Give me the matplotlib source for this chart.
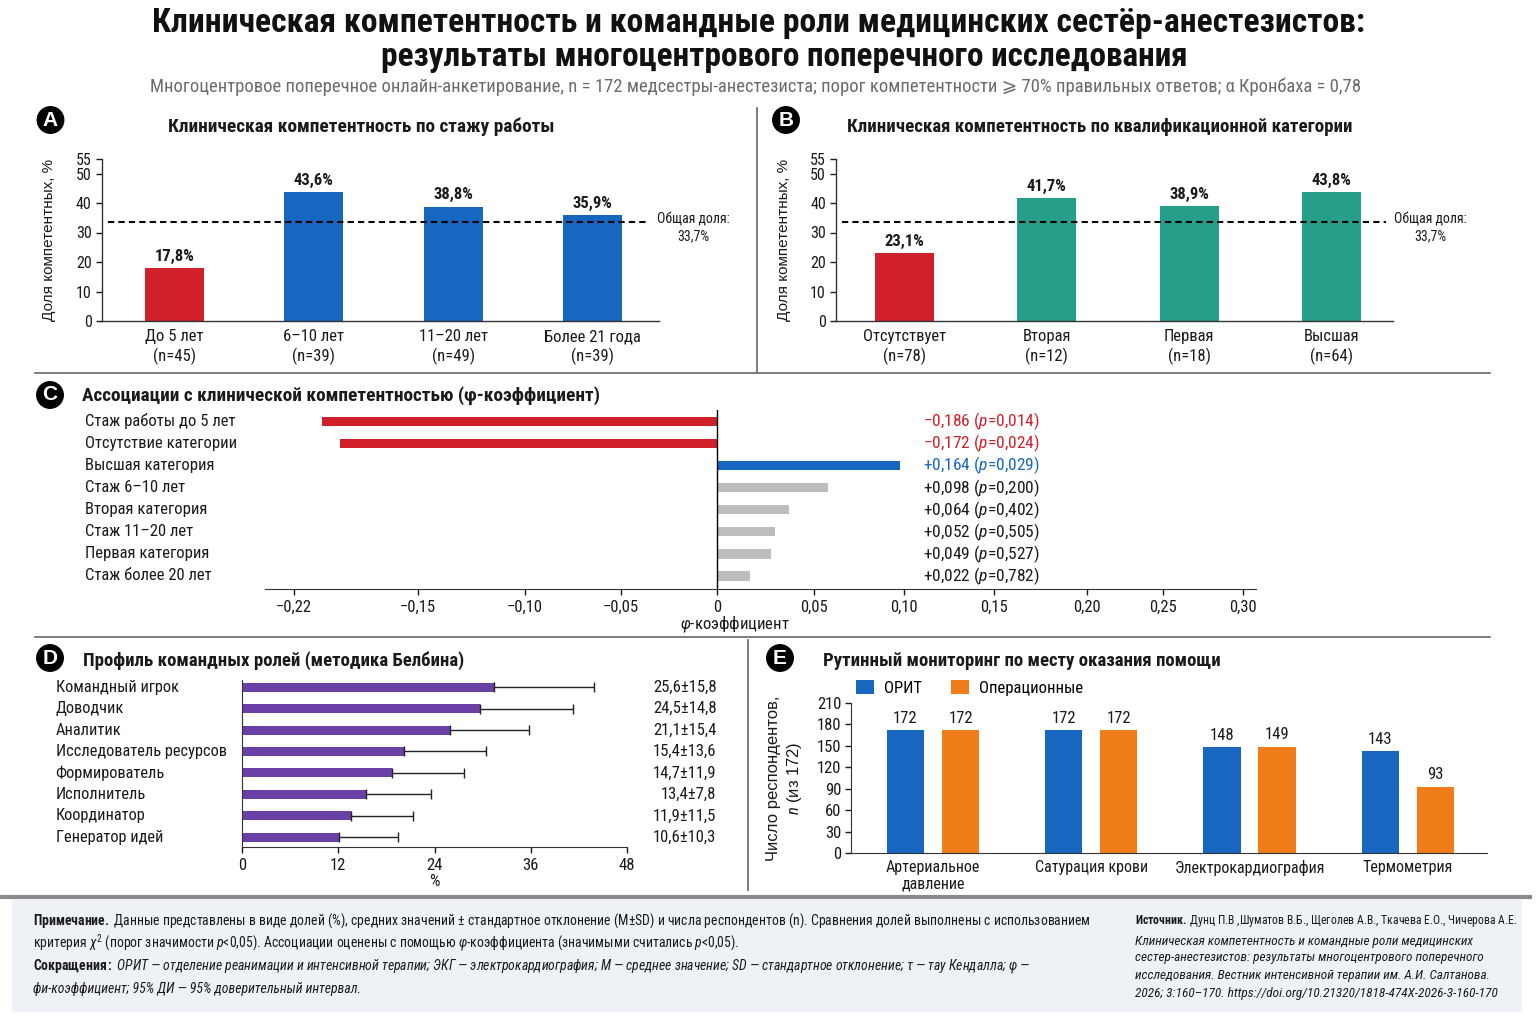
import numpy as np
import matplotlib
matplotlib.use("Agg")
import matplotlib.pyplot as plt
from matplotlib import font_manager as fm
from matplotlib import transforms as mtrans
from matplotlib.lines import Line2D
from matplotlib.patches import Rectangle

W, H = 1536, 1024

# ---------------- data ----------------
title_line1 = "Клиническая компетентность и командные роли медицинских сестёр-анестезистов:"
title_line2 = "результаты многоцентрового поперечного исследования"
subtitle = ("Многоцентровое поперечное онлайн-анкетирование, n = 172 медсестры-анестезиста; "
            "порог компетентности ⩾ 70% правильных ответов; α Кронбаха = 0,78")

exp_groups = ["До 5 лет", "6–10 лет", "11–20 лет", "Более 21 года"]
exp_n = [45, 39, 49, 39]
exp_pct = [17.8, 43.6, 38.8, 35.9]

cat_groups = ["Отсутствует", "Вторая", "Первая", "Высшая"]
cat_n = [78, 12, 18, 64]
cat_pct = [23.1, 41.7, 38.9, 43.8]

overall_pct = 33.7
comp_ticks = [0, 10, 20, 30, 40, 50, 55]

assoc_labels = ["Стаж работы до 5 лет", "Отсутствие категории", "Высшая категория", "Стаж 6–10 лет",
                "Вторая категория", "Стаж 11–20 лет", "Первая категория", "Стаж более 20 лет"]
assoc_bar = [-0.204, -0.194, 0.098, 0.058, 0.037, 0.030, 0.028, 0.017]
assoc_phi = ["−0,186", "−0,172", "+0,164", "+0,098", "+0,064", "+0,052", "+0,049", "+0,022"]
assoc_p = ["0,014", "0,024", "0,029", "0,200", "0,402", "0,505", "0,527", "0,782"]
phi_ticks = [-0.22, -0.15, -0.10, -0.05, 0.0, 0.05, 0.10, 0.15, 0.20, 0.25, 0.30]

roles = ["Командный игрок", "Доводчик", "Аналитик", "Исследователь ресурсов",
         "Формирователь", "Исполнитель", "Координатор", "Генератор идей"]
role_bar = [31.4, 29.7, 25.9, 20.2, 18.7, 15.5, 13.6, 12.1]
role_err = [12.5, 11.6, 9.9, 10.2, 9.0, 8.1, 7.7, 7.3]
role_text = ["25,6±15,8", "24,5±14,8", "21,1±15,4", "15,4±13,6",
             "14,7±11,9", "13,4±7,8", "11,9±11,5", "10,6±10,3"]
role_ticks = [0, 12, 24, 36, 48]

mon_groups = ["Артериальное\nдавление", "Сатурация крови", "Электрокардиография", "Термометрия"]
icu_n = [172, 172, 148, 143]
or_n = [172, 172, 149, 93]
mon_ticks = [0, 30, 60, 90, 120, 150, 180, 210]
mon_series = ["ОРИТ", "Операционные"]

# ---------------- fonts ----------------
names = {f.name for f in fm.fontManager.ttflist}
def pick(cands):
    for c in cands:
        if c in names:
            return c
    return "DejaVu Sans"

COND = pick(["Roboto Condensed", "Liberation Sans Narrow", "DejaVu Sans Condensed",
             "Arial Narrow", "Roboto", "Liberation Sans"])
REG = pick(["Liberation Sans", "Arial", "Roboto", "DejaVu Sans"])

plt.rcParams["font.family"] = [COND, "DejaVu Sans"]
plt.rcParams["mathtext.fontset"] = "custom"
plt.rcParams["mathtext.rm"] = COND
plt.rcParams["mathtext.it"] = COND + ":italic"
plt.rcParams["mathtext.bf"] = COND + ":bold"
plt.rcParams["axes.unicode_minus"] = True

RED = "#D0202A"
BLUE = "#1766BF"
TEAL = "#269E8A"
GRAY = "#BDBDBD"
PURPLE = "#6A3FA6"
ORANGE = "#F07D1A"
TXT = "#1a1a1a"

fig = plt.figure(figsize=(W / 100, H / 100), dpi=100)
fig.patch.set_facecolor("white")
R = fig.canvas.get_renderer()

def fx(px):
    return px / W

def fy(py):
    return 1 - py / H

def ftext(x, y, s, size, fit=None, **kw):
    kw.setdefault("color", TXT)
    kw.setdefault("va", "center")
    t = fig.text(fx(x), fy(y), s, fontsize=size, **kw)
    if fit:
        w = t.get_window_extent(R).width
        t.set_fontsize(size * fit / w)
    return t

def axes_px(l, t, r, b):
    return fig.add_axes([fx(l), fy(b), (r - l) / W, (b - t) / H])

def badge(x, y, letter):
    fig.text(fx(x), fy(y), letter, ha="center", va="center", color="white",
             fontweight="bold", fontsize=15, family=REG,
             bbox=dict(boxstyle="circle,pad=0.18", fc="black", ec="black"))

def hline(x0, x1, y, color="#666666", lw=1.2):
    fig.add_artist(Line2D([fx(x0), fx(x1)], [fy(y), fy(y)], color=color, lw=lw,
                          transform=fig.transFigure))

def vline(x, y0, y1, color="#666666", lw=1.2):
    fig.add_artist(Line2D([fx(x), fx(x)], [fy(y0), fy(y1)], color=color, lw=lw,
                          transform=fig.transFigure))

def fmt_pct(v):
    return f"{v:.1f}".replace(".", ",") + "%"

# ---------------- header ----------------
ftext(759, 23, title_line1, 20, fit=1208, ha="center", fontweight="bold", color="#111111")
ftext(784, 57, title_line2, 20, fit=804, ha="center", fontweight="bold", color="#111111")
ftext(756, 87, subtitle, 12, fit=1213, ha="center", color="#6b6b6b")

# separators
vline(757, 108, 372)
hline(35, 1490, 373)
hline(35, 1490, 637)
vline(748, 640, 890)

# ---------------- panels A & B ----------------
PX_PER_PCT = 2.95
def comp_panel(l, r, a_px, step_px, dash_px, cats, ns, vals, colors,
               letter, letter_xy, title, title_xy, title_w, ylab_x, note_x):
    top = 321 - comp_ticks[-1] * PX_PER_PCT
    ax = axes_px(l, top, r, 321)
    x = np.arange(len(cats))
    ax.bar(x, vals, width=59 / step_px, color=colors, zorder=2)
    ax.set_xlim((l - a_px) / step_px, (r - a_px) / step_px)
    ax.set_ylim(0, comp_ticks[-1])
    ax.set_yticks(comp_ticks)
    ax.set_yticklabels([str(t) for t in comp_ticks])
    ax.set_xticks(x)
    ax.set_xticklabels([f"{c}\n(n={n})" for c, n in zip(cats, ns)], linespacing=1.25)
    ax.tick_params(axis="x", length=0, pad=6, labelsize=12, colors=TXT)
    ax.tick_params(axis="y", length=4, width=1, pad=3, labelsize=11.5, colors=TXT)
    for s in ("top", "right"):
        ax.spines[s].set_visible(False)
    for s in ("left", "bottom"):
        ax.spines[s].set_color("#333333")
        ax.spines[s].set_linewidth(1.0)
    ax.patch.set_alpha(0)
    for xi, v in zip(x, vals):
        ax.annotate(fmt_pct(v), (xi, v), xytext=(0, 3), textcoords="offset points",
                    ha="center", va="bottom", fontweight="bold", fontsize=12, color=TXT)
    d0, d1 = [(p - a_px) / step_px for p in dash_px]
    ax.plot([d0, d1], [overall_pct, overall_pct], color="black", lw=1.5,
            ls=(0, (3, 2)), zorder=3)
    ftext(note_x, 228, "Общая доля:\n" + fmt_pct(overall_pct), 10, ha="center",
          multialignment="center", linespacing=1.3)
    ftext(ylab_x, 240, "Доля компетентных, %", 11, ha="center", rotation=90, family=REG)
    badge(*letter_xy, letter)
    ftext(title_xy[0], title_xy[1], title, 13, fit=title_w, ha="center", fontweight="bold")
    return ax

comp_panel(101.5, 659, 174.2, 139.5, (107.8, 647), exp_groups, exp_n, exp_pct,
           [RED, BLUE, BLUE, BLUE], "A", (50.5, 120), "Клиническая компетентность по стажу работы",
           (361, 127), 384, 49, 693)
comp_panel(835.7, 1392.7, 904.2, 142.45, (841.7, 1386), cat_groups, cat_n, cat_pct,
           [RED, TEAL, TEAL, TEAL], "B", (786, 120),
           "Клиническая компетентность по квалификационной категории",
           (1100, 127), 504, 784, 1430)

# ---------------- panel C ----------------
PHI_TICK_PX = [294, 418, 525, 621, 717, 814, 904, 994, 1087, 1163, 1243]
C_L, C_R = 265, 1256
phi_lo = phi_ticks[0] - (PHI_TICK_PX[0] - C_L) * (phi_ticks[1] - phi_ticks[0]) / (PHI_TICK_PX[1] - PHI_TICK_PX[0])
phi_hi = phi_ticks[-1] + (C_R - PHI_TICK_PX[-1]) * (phi_ticks[-1] - phi_ticks[-2]) / (PHI_TICK_PX[-1] - PHI_TICK_PX[-2])
map_v = np.array([phi_lo] + phi_ticks + [phi_hi])
map_p = np.array([C_L] + PHI_TICK_PX + [C_R], dtype=float)

def phi_fwd(v):
    return np.interp(v, map_v, map_p)

def phi_inv(p):
    return np.interp(p, map_p, map_v)

axc = axes_px(C_L, 410, C_R, 588.7)
axc.set_xscale("function", functions=(phi_fwd, phi_inv))
yc = np.arange(len(assoc_labels))
c_colors = [RED, RED, BLUE] + [GRAY] * (len(assoc_labels) - 3)
axc.barh(yc, assoc_bar, height=0.42, color=c_colors, zorder=2)
axc.set_xlim(phi_lo, phi_hi)
axc.set_ylim(7.576, -0.52)
axc.axvline(0, color="black", lw=1.0, zorder=3)
axc.set_xticks(phi_ticks)
axc.set_xticklabels(["0" if t == 0 else f"{t:.2f}".replace(".", ",").replace("-", "−") for t in phi_ticks])
axc.xaxis.set_minor_locator(matplotlib.ticker.NullLocator())
axc.set_yticks([])
for s in ("top", "right", "left"):
    axc.spines[s].set_visible(False)
axc.spines["bottom"].set_color("#333333")
axc.tick_params(axis="x", length=4, width=1, pad=4, labelsize=12, colors=TXT)
axc.patch.set_alpha(0)
tr_c = mtrans.blended_transform_factory(fig.transFigure, axc.transData)
for i, lab in enumerate(assoc_labels):
    axc.text(fx(85.4), i, lab, transform=tr_c, ha="left", va="center", fontsize=12, color=TXT)
val_colors = [RED, RED, BLUE] + [TXT] * (len(assoc_labels) - 3)
for i, (ph, pv) in enumerate(zip(assoc_phi, assoc_p)):
    axc.text(fx(923), i, ph + r" ($\mathit{p}$=" + pv + ")", transform=tr_c, ha="left",
             va="center", fontsize=12.5, color=val_colors[i])
ftext(735, 624, r"$\mathit{φ}$-коэффициент", 12, ha="center")
badge(50, 395, "C")
ftext(82, 396, "Ассоциации с клинической компетентностью (φ-коэффициент)", 13, fit=516,
      ha="left", fontweight="bold")

# ---------------- panel D ----------------
axd = axes_px(242, 680, 627, 847)
yd = np.arange(len(roles))
axd.barh(yd, role_bar, height=0.42, color=PURPLE, zorder=2)
axd.errorbar(role_bar, yd, xerr=[np.zeros(len(role_err)), role_err], fmt="none",
             ecolor="#222222", elinewidth=1.0, capsize=3.5, capthick=1.0, zorder=3)
axd.set_xlim(role_ticks[0], role_ticks[-1])
axd.set_ylim(7.45, -0.33)
axd.set_xticks(role_ticks)
axd.set_yticks([])
for s in ("top", "right"):
    axd.spines[s].set_visible(False)
for s in ("left", "bottom"):
    axd.spines[s].set_color("#333333")
axd.tick_params(axis="x", length=4, width=1, pad=4, labelsize=12, colors=TXT)
axd.patch.set_alpha(0)
tr_d = mtrans.blended_transform_factory(fig.transFigure, axd.transData)
for i, (lab, vt) in enumerate(zip(roles, role_text)):
    axd.text(fx(55.7), i, lab, transform=tr_d, ha="left", va="center", fontsize=11.8, color=TXT)
    axd.text(fx(716.5), i, vt, transform=tr_d, ha="right", va="center", fontsize=12, color=TXT)
ftext(434, 881, "%", 12, ha="center")
badge(50, 658, "D")
ftext(83, 661, "Профиль командных ролей (методика Белбина)", 13, fit=380, ha="left",
      fontweight="bold")

# ---------------- panel E ----------------
axe = axes_px(851, 703, 1486.7, 853)
xe = np.arange(len(mon_groups))
off = 27.5 / 158.3
bw = 37.3 / 158.3
b1 = axe.bar(xe - off, icu_n, width=bw, color=BLUE, label=mon_series[0], zorder=2)
b2 = axe.bar(xe + off, or_n, width=bw, color=ORANGE, label=mon_series[1], zorder=2)
for xi, v in zip(xe - off, icu_n):
    axe.annotate(str(v), (xi, v), xytext=(0, 3), textcoords="offset points", ha="center",
                 va="bottom", fontsize=12, color=TXT)
for xi, v in zip(xe + off, or_n):
    axe.annotate(str(v), (xi, v), xytext=(0, 3), textcoords="offset points", ha="center",
                 va="bottom", fontsize=12, color=TXT)
axe.set_xlim((851 - 933) / 158.3, (1486.7 - 933) / 158.3)
axe.set_ylim(mon_ticks[0], mon_ticks[-1])
axe.set_yticks(mon_ticks)
axe.set_xticks(xe)
axe.set_xticklabels(mon_groups, linespacing=1.1)
for s in ("top", "right"):
    axe.spines[s].set_visible(False)
for s in ("left", "bottom"):
    axe.spines[s].set_color("#333333")
axe.tick_params(axis="x", length=0, pad=5, labelsize=11.5, colors=TXT)
axe.tick_params(axis="y", length=4, width=1, pad=3, labelsize=12, colors=TXT)
axe.patch.set_alpha(0)
axe.legend(handles=[b1, b2], loc="upper left", bbox_to_anchor=(fx(856), fy(680)),
           bbox_transform=fig.transFigure, ncol=2, frameon=False, fontsize=12,
           handlelength=1.1, handleheight=0.9, handletextpad=0.6, columnspacing=1.7,
           borderaxespad=0, borderpad=0)
ftext(785, 778, "Число респондентов,\n" + r"$\mathit{n}$ (из 172)", 12, ha="center",
      rotation=90, family=REG, multialignment="center", linespacing=1.3)
badge(780, 658, "E")
ftext(823, 661, "Рутинный мониторинг по месту оказания помощи", 13, fit=395, ha="left",
      fontweight="bold")

# ---------------- footer ----------------
fig.add_artist(Rectangle((fx(12), fy(1012)), (1522 - 12) / W, (1012 - 900) / H,
                         transform=fig.transFigure, fc="#EEF2F7", ec="none", zorder=0))
hline(0, 1530, 897, color="#8a8a8a", lw=3)

n1 = ftext(33, 921, r"$\mathbf{Примечание.}$ Данные представлены в виде долей (%), средних значений ± "
           r"стандартное отклонение (M±SD) и числа респондентов (n). Сравнения долей выполнены с использованием",
           10, fit=1060, ha="left")
fs = n1.get_fontsize()
ftext(33, 943, r"критерия $\chi^2$ (порог значимости $\mathit{p}$<0,05). Ассоциации оценены с помощью "
      r"$\mathit{φ}$-коэффициента (значимыми считались $\mathit{p}$<0,05).", fs, ha="left")
ftext(33, 966, r"$\mathbf{Сокращения:}$ ОРИТ — отделение реанимации и интенсивной терапии; "
      r"ЭКГ — электрокардиография; M — среднее значение; SD — стандартное отклонение; "
      r"τ — тау Кендалла; φ —", fs, ha="left", fontstyle="italic")
ftext(33, 989, "фи-коэффициент; 95% ДИ — 95% доверительный интервал.", fs, ha="left",
      fontstyle="italic")

ftext(1135, 921, r"$\mathbf{Источник.}$ Дунц П.В ,Шуматов В.Б., Щеголев А.В., Ткачева Е.О., Чичерова А.Е.",
      9, fit=383, ha="left")
fs2 = ftext(1135, 941, "Клиническая компетентность и командные роли медицинских", 9, fit=340,
            ha="left", fontstyle="italic").get_fontsize()
ftext(1135, 958, "сестер-анестезистов: результаты многоцентрового поперечного", fs2, ha="left",
      fontstyle="italic")
ftext(1135, 975, "исследования. Вестник интенсивной терапии им. А.И. Салтанова.", fs2, ha="left",
      fontstyle="italic")
ftext(1135, 993, "2026; 3:160–170. https://doi.org/10.21320/1818-474X-2026-3-160-170", fs2,
      ha="left", fontstyle="italic")

fig.savefig("out.png", dpi=100)
